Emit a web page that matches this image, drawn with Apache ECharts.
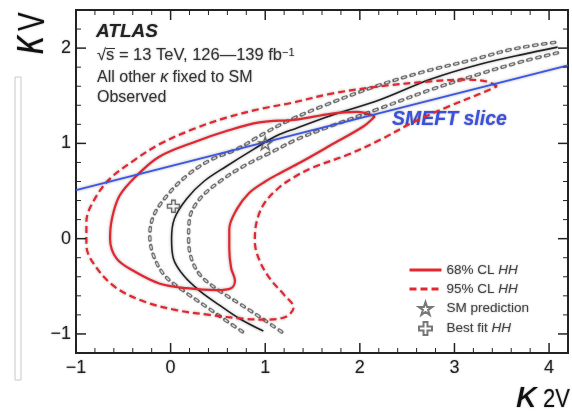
<!DOCTYPE html>
<html>
<head>
<meta charset="utf-8">
<script src="https://cdn.jsdelivr.net/npm/echarts@6.0.0/dist/echarts.min.js"></script>
<style>
  html, body { margin: 0; padding: 0; background: #fff; }
  #chart { width: 572px; height: 411px; }
</style>
</head>
<body>
<div id="chart"></div>
<script>
// Likelihood contours in the (kappa_2V, kappa_V) plane, HH combination
const xTicks = [-1, 0, 1, 2, 3, 4];
const yTicks = [-1, 0, 1, 2];

// 68% CL HH contour (closed)
const hh68 = [
  [2.16, 1.285], [2.04, 1.18], [1.69, 0.98], [1.37, 0.80], [1.16, 0.69], [1.00, 0.60],
  [0.83, 0.48], [0.70, 0.31], [0.62, 0.10], [0.62, -0.10], [0.64, -0.31], [0.68, -0.44],
  [0.64, -0.52], [0.49, -0.54], [0.17, -0.52], [-0.12, -0.47], [-0.39, -0.34], [-0.57, -0.21],
  [-0.64, 0.00], [-0.62, 0.21], [-0.54, 0.45], [-0.36, 0.66], [-0.12, 0.86], [0.24, 1.01],
  [0.59, 1.13], [0.94, 1.22], [1.33, 1.25], [1.69, 1.31], [1.97, 1.33], [2.16, 1.285]
];

// 95% CL HH contour (closed)
const hh95 = [
  [3.45, 1.60], [3.34, 1.65], [3.09, 1.67], [2.74, 1.65], [2.22, 1.60], [1.69, 1.52],
  [1.30, 1.43], [0.94, 1.36], [0.59, 1.27], [0.24, 1.15], [-0.12, 0.99], [-0.39, 0.82],
  [-0.64, 0.63], [-0.80, 0.42], [-0.89, 0.18], [-0.89, -0.07], [-0.78, -0.31], [-0.57, -0.52],
  [-0.28, -0.66], [0.06, -0.75], [0.41, -0.80], [0.77, -0.84], [0.98, -0.85], [1.22, -0.82],
  [1.30, -0.72], [1.20, -0.59], [1.05, -0.42], [0.94, -0.23], [0.89, -0.03], [0.91, 0.18],
  [0.99, 0.37], [1.15, 0.54], [1.33, 0.66], [1.51, 0.75], [1.87, 0.88], [2.22, 1.04],
  [2.56, 1.22], [2.92, 1.38], [3.27, 1.52], [3.45, 1.60]
];

// Central valley of the likelihood (solid black)
const centralValley = [
  [4.09, 2.01], [3.80, 1.95], [3.27, 1.83], [2.74, 1.67], [2.22, 1.46], [1.69, 1.29],
  [1.33, 1.16], [1.12, 1.08], [0.88, 0.94], [0.59, 0.76], [0.35, 0.60], [0.17, 0.42],
  [0.04, 0.21], [0.01, 0.00], [0.03, -0.21], [0.14, -0.39], [0.31, -0.55], [0.52, -0.70],
  [0.73, -0.84], [0.98, -0.97]
];

// Band edges around the valley (grey dashed)
const bandUpper = [
  [4.06, 2.06], [3.62, 1.99], [3.20, 1.88], [2.67, 1.75], [2.14, 1.59], [1.58, 1.38],
  [1.27, 1.25], [0.98, 1.10], [0.70, 0.94], [0.41, 0.82], [0.17, 0.66], [-0.04, 0.45],
  [-0.18, 0.24], [-0.22, 0.03], [-0.18, -0.18], [-0.06, -0.39], [0.14, -0.55], [0.40, -0.73],
  [0.60, -0.87], [0.78, -0.99]
];
const bandLower = [
  [4.09, 1.95], [3.72, 1.86], [3.27, 1.73], [2.74, 1.56], [2.22, 1.37], [1.69, 1.18],
  [1.33, 1.04], [1.09, 0.92], [0.77, 0.76], [0.52, 0.60], [0.31, 0.42], [0.20, 0.21],
  [0.19, 0.00], [0.22, -0.21], [0.32, -0.39], [0.52, -0.55], [0.74, -0.69], [0.97, -0.84],
  [1.19, -0.99]
];

// SMEFT slice (straight line)
const smeftSlice = [[-1, 0.51], [4.2, 1.82]];

// Reference points
const smPrediction = [[1, 1]];
const bestFitHH = [[0.03, 0.34]];

// minor tick positions every 0.2 between the labelled ticks
function minorSteps(lo, hi) {
  const out = [];
  for (let k = Math.round(lo * 5); k <= Math.round(hi * 5); k++) {
    if (k % 5 !== 0) out.push(k / 5);
  }
  return out;
}
const xMinor = minorSteps(-1, 4.2);
const yMinor = minorSteps(-1.2, 2.4);

const X_RANGE = [-1, 4.2];
const Y_RANGE = [-1.2, 2.4];

const FONT = 'Liberation Sans, Arial, Helvetica, sans-serif';
const INK = '#222';
const HALO = 'rgba(0,0,0,0.35)';
const RED = '#e3262f';

const starPath = 'path://M50,2 L61,36 L97,36 L68,57 L79,92 L50,71 L21,92 L32,57 L3,36 L39,36 Z';
const crossPath = 'path://M35,0 L65,0 L65,35 L100,35 L100,65 L65,65 L65,100 L35,100 L35,65 L0,65 L0,35 L35,35 Z';

const fmtNum = v => (v < 0 ? '\u2212' + Math.abs(v) : String(v));

const chart = echarts.init(document.getElementById('chart'), null, { renderer: 'canvas' });

// labelled axis along one frame side (the other two sides come from the grid border)
function sideAxis(position, range, major) {
  return {
    type: 'value', position, min: range[0], max: range[1],
    splitLine: { show: false }, splitArea: { show: false },
    axisLine: { show: true, onZero: false, lineStyle: { color: INK, width: 2 } },
    axisTick: { show: false },
    axisLabel: {
      show: true, customValues: major, formatter: fmtNum, margin: position === 'bottom' ? 6 : 5,
      fontFamily: FONT, fontSize: 18, color: INK, textShadowColor: HALO, textShadowBlur: 2
    }
  };
}

function contour(name, data, color, width, type, z, extra) {
  return Object.assign({
    name, type: 'line', data, xAxisIndex: 0, yAxisIndex: 0,
    showSymbol: false, symbol: 'none', smooth: 0.35, z,
    lineStyle: { color, width, type, shadowColor: HALO, shadowBlur: 3 },
    itemStyle: { color },
    emphasis: { disabled: true }, silent: true, animation: false
  }, extra || {});
}

// grey band edges: dark rounded dash underneath, light dash on top
function bandEdge(name, data) {
  return [
    contour(name + ' rim', data, '#6a6a6a', 3.4, [3.5, 5.5], 2,
      { lineStyle: { color: '#6a6a6a', width: 3.4, type: [3.5, 5.5], cap: 'round',
        shadowColor: 'rgba(0,0,0,0.25)', shadowBlur: 2 } }),
    contour(name + ' core', data, '#d6d6d6', 1.5, [3.5, 5.5], 2,
      { lineStyle: { color: '#d6d6d6', width: 1.5, type: [3.5, 5.5], cap: 'butt' } })
  ];
}

const txt = (extra) => Object.assign({ textShadowColor: HALO, textShadowBlur: 2 }, extra);

const option = {
  animation: false,
  grid: {
    left: 76, top: 10, width: 492, height: 343, containLabel: false,
    show: true, borderColor: INK, borderWidth: 2, backgroundColor: 'rgba(0,0,0,0)'
  },
  xAxis: [sideAxis('bottom', X_RANGE, xTicks)],
  yAxis: [sideAxis('left', Y_RANGE, yTicks)],
  legend: {
    data: [
      { name: '68% CL HH', itemStyle: { opacity: 0 }, lineStyle: { width: 3 } },
      { name: '95% CL HH', itemStyle: { opacity: 0 }, lineStyle: { width: 3 } },
      { name: 'SM prediction' },
      { name: 'Best fit HH' }
    ],
    orient: 'vertical', left: 403, top: 258,
    itemWidth: 32, itemHeight: 13, itemGap: 5,
    selectedMode: false,
    formatter: n => n.replace('HH', '{i|HH}'),
    textStyle: {
      fontFamily: FONT, fontSize: 13.5, color: '#444', padding: [0, 0, 0, 0],
      textShadowColor: HALO, textShadowBlur: 2,
      rich: { i: { fontFamily: FONT, fontSize: 13.5, fontStyle: 'italic', color: '#444',
        textShadowColor: HALO, textShadowBlur: 2 } }
    }
  },
  series: [].concat(
    bandEdge('band up', bandUpper),
    bandEdge('band down', bandLower),
    [
      contour('valley', centralValley, '#222', 1.6, 'solid', 3),
      contour('68% CL HH', hh68, RED, 2.2, 'solid', 4),
      contour('95% CL HH', hh95, RED, 2.2, [7, 4], 4),
      contour('SMEFT', smeftSlice, '#3a55e8', 1.8, 'solid', 5, { smooth: false }),
      {
        name: 'SM prediction', type: 'scatter', data: smPrediction, symbol: starPath, symbolSize: 13,
        itemStyle: { color: 'rgba(255,255,255,0)', borderColor: '#555', borderWidth: 1.3,
          shadowColor: HALO, shadowBlur: 2 },
        z: 6, silent: true
      },
      {
        name: 'Best fit HH', type: 'scatter', data: bestFitHH, symbol: crossPath, symbolSize: 12,
        itemStyle: { color: 'rgba(255,255,255,0)', borderColor: '#555', borderWidth: 1.3,
          shadowColor: HALO, shadowBlur: 2 },
        z: 6, silent: true
      }
    ]
  )
};

// Header, annotations and axis titles
const decorations = [
  { type: 'rect', shape: { x: 15, y: 77, width: 6, height: 303 },
    style: { fill: '#fff', stroke: '#c8c8c8', lineWidth: 1 } },
  { type: 'text', left: 96, top: 22,
    style: txt({ text: 'ATLAS', font: 'italic bold 19px ' + FONT, fill: INK }) },
  { type: 'text', left: 97, top: 47,
    style: {
      text: '{a|\u221As = 13 TeV, 126\u2014139 fb}{s|\u22121}',
      rich: {
        a: txt({ fontFamily: FONT, fontSize: 16.5, fill: '#333' }),
        s: txt({ fontFamily: FONT, fontSize: 11, fill: '#333', verticalAlign: 'top' })
      }
    } },
  // bar over the s of the square root
  { type: 'line', shape: { x1: 106, y1: 48.5, x2: 115, y2: 48.5 },
    style: { stroke: '#333', lineWidth: 1.1 } },
  { type: 'text', left: 97, top: 70,
    style: {
      text: '{a|All other }{k|\u03BA}{a| fixed to SM}',
      rich: {
        a: txt({ fontFamily: FONT, fontSize: 16, fill: '#333' }),
        k: txt({ fontFamily: FONT, fontSize: 16, fontStyle: 'italic', fill: '#333' })
      }
    } },
  { type: 'text', left: 97, top: 90,
    style: txt({ text: 'Observed', font: '16px ' + FONT, fill: '#333' }) },
  { type: 'text', left: 392, top: 110,
    style: { text: 'SMEFT slice', font: 'italic bold 19.5px ' + FONT, fill: '#3a50e0',
      textShadowColor: 'rgba(0,0,0,0.4)', textShadowBlur: 2 } },
  // y-axis title, rotated to read upwards
  { type: 'text', x: 29, y: 54, rotation: Math.PI / 2, scaleY: 1.35,
    style: txt({ text: '\u03BA', font: 'italic 36px ' + FONT, fill: '#111',
      textAlign: 'left', verticalAlign: 'middle' }) },
  { type: 'text', x: 34, y: 31, rotation: Math.PI / 2, scaleY: 1.35,
    style: txt({ text: 'V', font: '28px ' + FONT, fill: '#111',
      textAlign: 'left', verticalAlign: 'middle' }) },
  // x-axis title
  { type: 'text', x: 516, y: 397, scaleX: 1.2, scaleY: 1.08,
    style: txt({ text: '\u03BA', font: 'italic 34px ' + FONT, fill: '#111',
      textAlign: 'left', verticalAlign: 'middle' }) },
  { type: 'text', x: 543, y: 400, scaleY: 1.2,
    style: txt({ text: '2V', font: '22px ' + FONT, fill: '#111',
      textAlign: 'left', verticalAlign: 'middle' }) }
];

chart.setOption(option);

// Inward frame ticks on all four sides, placed through the grid's own scales:
// long ticks at the integer values, short ticks every 0.2.
function buildFrameTicks() {
  const toPx = (x, y) => chart.convertToPixel({ gridIndex: 0 }, [x, y]);
  const lo = toPx(X_RANGE[0], Y_RANGE[0]);
  const hi = toPx(X_RANGE[1], Y_RANGE[1]);
  const left = lo[0], bottom = lo[1], right = hi[0], top = hi[1];
  const segs = [];
  const addX = (v, len, w) => {
    const px = toPx(v, Y_RANGE[0])[0];
    segs.push([px, bottom, px, bottom - len, w], [px, top, px, top + len, w]);
  };
  const addY = (v, len, w) => {
    const py = toPx(X_RANGE[0], v)[1];
    segs.push([left, py, left + len, py, w], [right, py, right - len, py, w]);
  };
  xTicks.forEach(v => addX(v, 10, 1.5));
  xMinor.forEach(v => addX(v, 5, 1));
  yTicks.forEach(v => addY(v, 10, 1.5));
  yMinor.forEach(v => addY(v, 5, 1));
  return segs.map(s => ({
    type: 'line', z: 100, silent: true,
    shape: { x1: s[0], y1: s[1], x2: s[2], y2: s[3] },
    style: { stroke: INK, lineWidth: s[4] }
  }));
}

let frameTicks = [];
try { frameTicks = buildFrameTicks(); } catch (e) { frameTicks = []; }
chart.setOption({ graphic: decorations.concat(frameTicks) });
</script>
</body>
</html>
